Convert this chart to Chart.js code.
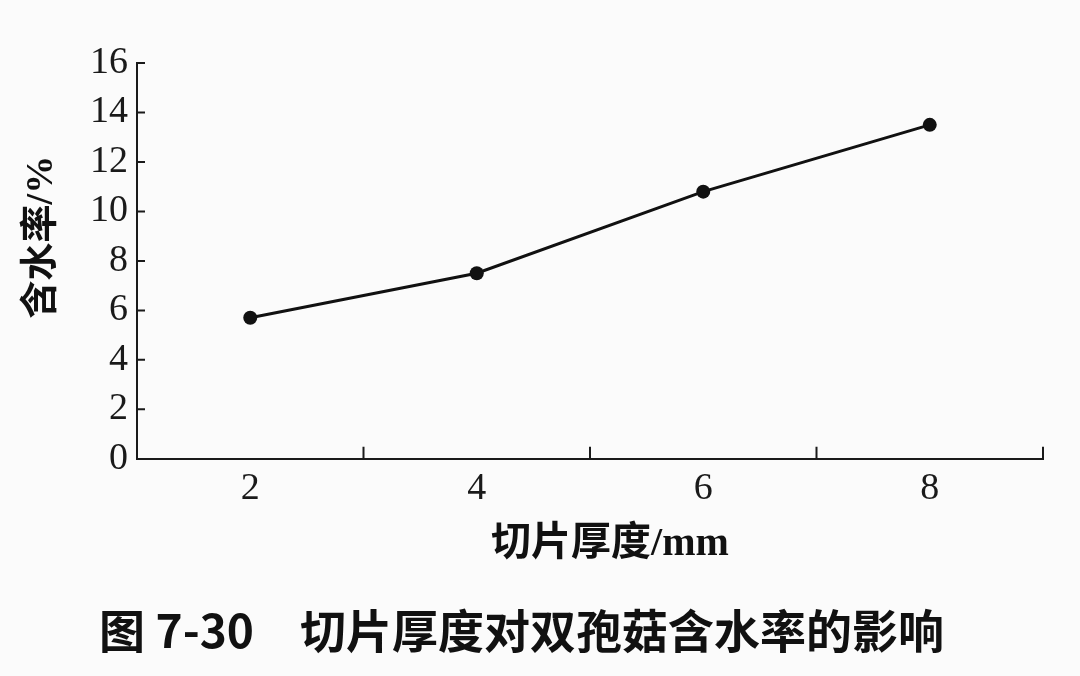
<!DOCTYPE html>
<html>
<head>
<meta charset="utf-8">
<script src="https://cdn.jsdelivr.net/npm/chart.js@4.4.0/dist/chart.umd.min.js"></script>
<style>
  html, body { margin: 0; padding: 0; background: #fbfbfb; }
  canvas { display: block; }
</style>
</head>
<body>
<canvas id="lineChart" width="1080" height="676"></canvas>
<script>
// slice thickness (mm) vs moisture content (%)
var thickness = [2, 4, 6, 8];
var moisture = [5.7, 7.5, 10.8, 13.5];
var xLabelTicks = [2, 4, 6, 8];
var xMarkTicks = [3, 5, 7, 9];
var yTicks = [2, 4, 6, 8, 10, 12, 14, 16];

var points = [];
for (var i = 0; i < thickness.length; i++) {
  points.push({x: thickness[i], y: moisture[i]});
}

var numFont = {family: "'Liberation Serif', 'DejaVu Serif', serif", size: 38};
var cjkFont = {family: "'Liberation Serif', 'Noto Sans CJK SC', serif", size: 38, weight: 'bold'};

// ticks drawn pointing into the plot, like the printed figure
var innerTicks = {
  id: 'innerTicks',
  afterDraw: function(chart) {
    var ctx = chart.ctx;
    var xs = chart.scales.x, ys = chart.scales.y;
    ctx.save();
    ctx.strokeStyle = '#1a1a1a';
    ctx.lineWidth = 2;
    ctx.beginPath();
    yTicks.forEach(function(v) {
      var py = ys.getPixelForValue(v);
      ctx.moveTo(xs.left, py);
      ctx.lineTo(xs.left + 8, py);
    });
    xMarkTicks.forEach(function(v) {
      var px = xs.getPixelForValue(v);
      ctx.moveTo(px, ys.bottom);
      ctx.lineTo(px, ys.bottom - 12);
    });
    ctx.stroke();
    ctx.restore();
  }
};

var ctxL = document.getElementById('lineChart').getContext('2d');
var myLineChart = new Chart(ctxL, {
  type: 'line',
  data: {
    datasets: [{
      data: points,
      borderColor: '#111',
      backgroundColor: '#111',
      borderWidth: 3,
      pointRadius: 7,
      pointBorderWidth: 0,
      tension: 0
    }]
  },
  options: {
    responsive: false,
    animation: false,
    layout: {padding: {left: 0, right: 37, top: 63, bottom: 8}},
    plugins: {
      legend: {display: false},
      tooltip: {enabled: false},
      title: {
        display: true,
        position: 'bottom',
        text: '图 7-30　切片厚度对双孢菇含水率的影响',
        color: '#111',
        font: {family: "'Noto Sans CJK SC', 'Noto Sans', sans-serif", size: 46, weight: 'bold'},
        padding: {top: 24, bottom: 10}
      }
    },
    scales: {
      x: {
        type: 'linear',
        min: 1,
        max: 9,
        afterFit: function(s) { s.height = 120; },
        grid: {display: false, drawTicks: false},
        border: {display: true, color: '#1a1a1a', width: 2},
        ticks: {
          stepSize: 1,
          autoSkip: false,
          maxRotation: 0,
          padding: 7,
          color: '#1a1a1a',
          font: numFont,
          callback: function(v) { return xLabelTicks.indexOf(v) >= 0 ? v : ''; }
        },
        title: {
          display: true,
          text: '　切片厚度/mm',
          color: '#111',
          font: {family: cjkFont.family, size: 40, weight: 'bold'},
          padding: {top: 0, bottom: 10}
        }
      },
      y: {
        min: 0,
        max: 16,
        afterFit: function(s) { s.width = 137; },
        grid: {display: false, drawTicks: false},
        border: {display: true, color: '#1a1a1a', width: 2},
        ticks: {
          stepSize: 2,
          autoSkip: false,
          padding: 9,
          color: '#1a1a1a',
          font: numFont
        },
        title: {
          display: true,
          text: '　 含水率/%',
          color: '#111',
          font: cjkFont,
          padding: {top: 19, bottom: 0}
        }
      }
    }
  },
  plugins: [innerTicks]
});
</script>
</body>
</html>
